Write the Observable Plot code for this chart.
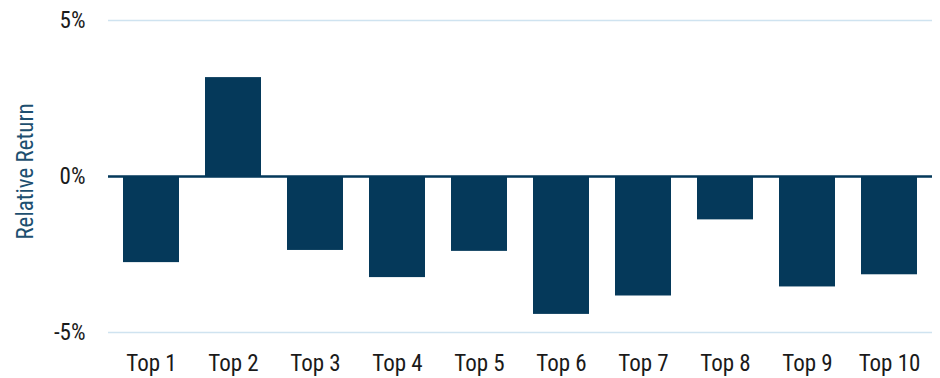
<!DOCTYPE html>
<html>
<head>
<meta charset="utf-8">
<script src="https://cdn.jsdelivr.net/npm/d3@7"></script>
<script src="https://cdn.jsdelivr.net/npm/@observablehq/plot@0.6"></script>
<style>
  html, body { margin: 0; padding: 0; background: #fff; }
  #chart svg { display: block; }
</style>
</head>
<body>
<div id="chart"></div>
<script>
const categories = ["Top 1", "Top 2", "Top 3", "Top 4", "Top 5", "Top 6", "Top 7", "Top 8", "Top 9", "Top 10"];
const relativeReturn = [-2.76, 3.17, -2.37, -3.24, -2.40, -4.42, -3.83, -1.39, -3.54, -3.15];
const yTicks = [-5, 0, 5];

const data = categories.map((c, i) => ({ cat: c, value: relativeReturn[i] }));
const font = "'Roboto Condensed', 'Liberation Sans Narrow', 'DejaVu Sans Condensed', Roboto, sans-serif";

const chart = Plot.plot({
  width: 940,
  height: 378,
  marginLeft: 108,
  marginRight: 8,
  marginTop: 20,
  marginBottom: 46,
  style: { fontFamily: font, fontSize: "23px", color: "#1a1a1a", background: "#fff" },
  x: { domain: categories, paddingInner: 0.32, paddingOuter: 0.16 },
  y: { domain: [-5, 5] },
  marks: [
    Plot.gridY(yTicks, { stroke: "#cfe3f0", strokeOpacity: 1, strokeWidth: 1.5 }),
    Plot.barY(data, { x: "cat", y: "value", fill: "#05395a" }),
    Plot.ruleY([0], { stroke: "#05395a", strokeWidth: 2.5 }),
    Plot.axisY(yTicks, { tickSize: 0, tickPadding: 23, tickFormat: d => d + "%", fontSize: 23,
      label: "Relative Return", labelAnchor: "center", labelArrow: "none", labelOffset: 92 }),
    Plot.axisX({ tickSize: 0, tickPadding: 22, fontSize: 23, label: null })
  ]
});
d3.select(chart).selectAll("text").attr("font-weight", 400);
d3.select(chart).selectAll('g[aria-label="y-axis label"]').attr("fill", "#1d4f70")
  .selectAll("text").attr("dx", 5);
document.getElementById("chart").appendChild(chart);
</script>
</body>
</html>
